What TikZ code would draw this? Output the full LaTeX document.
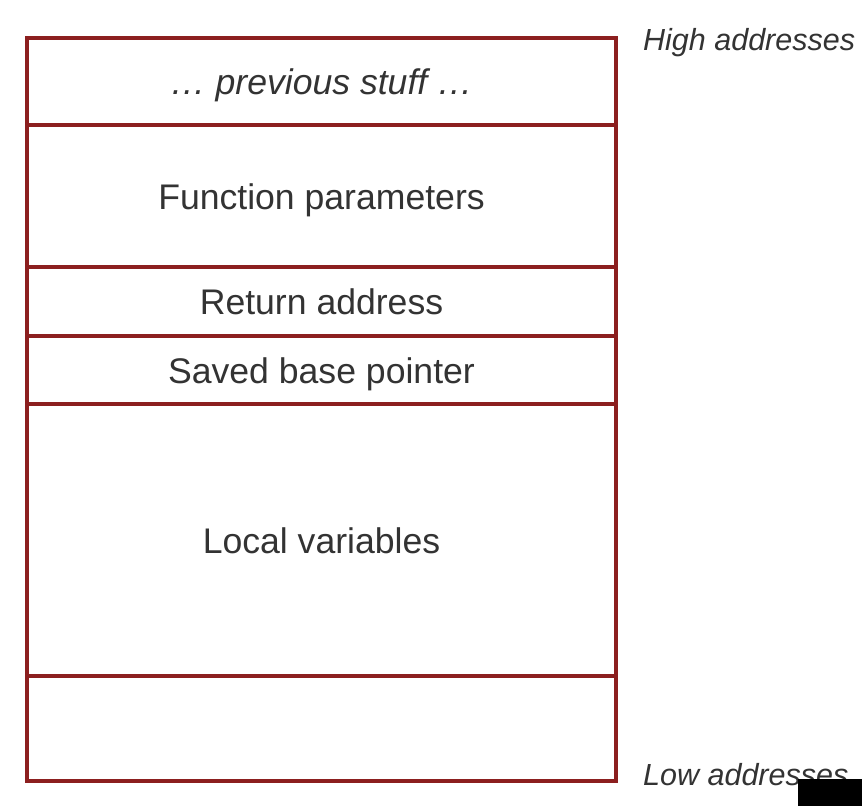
\documentclass[tikz,border=0pt]{standalone}
\usepackage{fontspec}
\setmainfont{Liberation Sans}
\definecolor{boxred}{HTML}{8C1F1F}
\definecolor{txt}{HTML}{333333}
\definecolor{overlay}{HTML}{232A2A}
\begin{document}
\begin{tikzpicture}[x=1pt,y=-1pt,
  row/.style={draw=boxred, line width=3.2pt, minimum width=589pt, inner sep=0pt, outer sep=0pt,
    text height=30pt, text depth=4pt,
    text=txt, font=\fontsize{35.6}{40}\selectfont},
  side/.style={anchor=base west, inner sep=0pt, text=txt, font=\fontsize{30.5}{34}\selectfont\itshape}]
\useasboundingbox (0,0) rectangle (862,806);
\fill[white] (0,0) rectangle (862,806);
\node[row, minimum height=87pt]  (prev)   at (321.5,81.5)  {\itshape … previous stuff …};
\node[row, minimum height=142pt] (params) at (321.5,196)   {Function parameters};
\node[row, minimum height=69pt]  (ret)    at (321.5,301.5) {Return address};
\node[row, minimum height=68pt]  (sbp)    at (321.5,370)   {Saved base pointer};
\node[row, minimum height=272pt] (locals) at (321.5,540)   {Local variables};
\node[row, minimum height=105pt] (empty)  at (321.5,728.5) {};
\node[side] (high) at (643,50)  {High addresses};
\node[side] (low)  at (643,785) {Low addresses};
\fill[overlay] (798,779) rectangle (862,806);
\end{tikzpicture}
\end{document}
